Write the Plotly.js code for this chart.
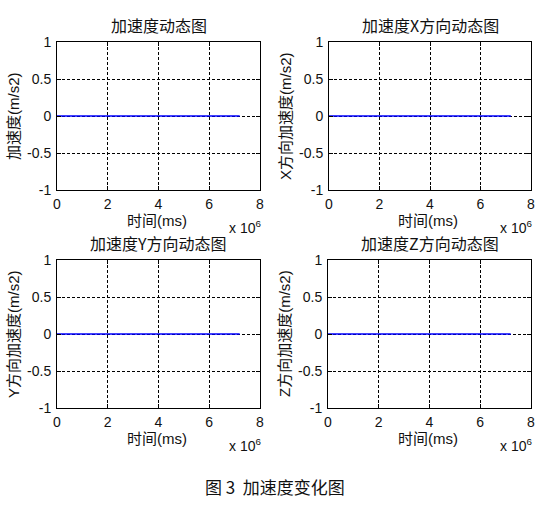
<!DOCTYPE html>
<html>
<head>
<meta charset="utf-8">
<script src="https://cdn.plot.ly/plotly-3.0.1.min.js"></script>
<style>
  html, body { margin: 0; padding: 0; background: #fff; }
  #chart { width: 544px; height: 519px; }
</style>
</head>
<body>
<div id="chart"></div>
<script>
// ── Data ─────────────────────────────────────────────────────
const timeMs   = [0, 7.2e6];
const accTotal = [0, 0];
const accX     = [0, 0];
const accY     = [0, 0];
const accZ     = [0, 0];

const xTickVals = [0, 2e6, 4e6, 6e6, 8e6];
const xTickText = ['0', '2', '4', '6', '8'];
const yTickVals = [-1, -0.5, 0, 0.5, 1];
const yTickText = ['-1', '-0.5', '0', '0.5', '1'];

const panelTitles  = ['加速度动态图', '加速度X方向动态图', '加速度Y方向动态图', '加速度Z方向动态图'];
const panelYLabels = ['加速度(m/s2)', 'X方向加速度(m/s2)', 'Y方向加速度(m/s2)', 'Z方向加速度(m/s2)'];
const xLabel  = '时间(ms)';
const caption = '图 3  加速度变化图';

// ── Layout geometry (pixels) ─────────────────────────────────
const W = 544, H = 519;
const FONT = 'Liberation Sans, Arial, Noto Sans CJK SC, sans-serif';
const CJK  = 'Noto Sans CJK SC, sans-serif';
const TXT = '#111';

// [left, right, top, bottom] of each axes box
const boxes = [
  [57, 260, 42, 190],
  [329, 531, 42, 190],
  [57, 260, 260, 408],
  [328, 531, 260, 408],
];

const series = [accTotal, accX, accY, accZ];

const px = v => v / W;
const py = v => 1 - v / H;

const traces = series.map((ys, i) => ({
  type: 'scatter',
  mode: 'lines',
  x: timeMs,
  y: ys,
  xaxis: 'x' + (i === 0 ? '' : i + 1),
  yaxis: 'y' + (i === 0 ? '' : i + 1),
  line: { color: '#0000ff', width: 1.6 },
  hoverinfo: 'skip',
  showlegend: false,
}));

const axisBase = {
  showline: true,
  linecolor: '#000',
  linewidth: 1,
  mirror: 'ticks',
  ticks: 'inside',
  ticklen: 4,
  tickcolor: '#000',
  showgrid: true,
  gridcolor: '#000',
  gridwidth: 1,
  griddash: '3px,2px',
  zeroline: false,
  tickfont: { family: FONT, size: 14, color: TXT },
  fixedrange: true,
};

const layout = {
  width: W,
  height: H,
  margin: { t: 0, r: 0, b: 0, l: 0 },
  paper_bgcolor: '#fff',
  plot_bgcolor: '#fff',
  showlegend: false,
  annotations: [],
};

boxes.forEach((b, i) => {
  const sfx = i === 0 ? '' : String(i + 1);
  const [l, r, t, bt] = b;
  layout['xaxis' + sfx] = {
    ...axisBase,
    domain: [px(l), px(r)],
    anchor: 'y' + sfx,
    range: [0, 8e6],
    tickmode: 'array',
    tickvals: xTickVals,
    ticktext: xTickText,
    ticklabelstandoff: 1,
  };
  layout['yaxis' + sfx] = {
    ...axisBase,
    domain: [py(bt), py(t)],
    anchor: 'x' + sfx,
    range: [-1, 1],
    tickmode: 'array',
    tickvals: yTickVals,
    ticktext: yTickText,
    ticklabelstandoff: 2,
  };

  const cx = (l + r) / 2;
  const cy = (t + bt) / 2;
  // panel title
  layout.annotations.push({
    xref: 'paper', yref: 'paper', x: px(cx), y: py(t - 17),
    text: panelTitles[i], showarrow: false,
    font: { family: CJK, size: 16, color: TXT },
    xanchor: 'center', yanchor: 'middle',
  });
  // y label
  layout.annotations.push({
    xref: 'paper', yref: 'paper', x: px(l - 44), y: py(cy),
    text: panelYLabels[i], showarrow: false, textangle: -90,
    font: { family: FONT, size: 15, color: TXT },
    xanchor: 'center', yanchor: 'middle',
  });
  // x label
  layout.annotations.push({
    xref: 'paper', yref: 'paper', x: px(cx - 2), y: py(bt + 30),
    text: xLabel, showarrow: false,
    font: { family: FONT, size: 15, color: TXT },
    xanchor: 'center', yanchor: 'middle',
  });
  // exponent
  layout.annotations.push({
    xref: 'paper', yref: 'paper', x: px(r + 3), y: py(bt + 37),
    text: 'x 10<sup>6</sup>', showarrow: false,
    font: { family: FONT, size: 14, color: TXT },
    xanchor: 'right', yanchor: 'middle',
  });
});

// figure caption
layout.annotations.push({
  xref: 'paper', yref: 'paper', x: px(275), y: py(486),
  text: caption, showarrow: false,
  font: { family: CJK, size: 17, color: TXT },
  xanchor: 'center', yanchor: 'middle',
});

Plotly.newPlot('chart', traces, layout, { displayModeBar: false, staticPlot: true });
</script>
</body>
</html>
